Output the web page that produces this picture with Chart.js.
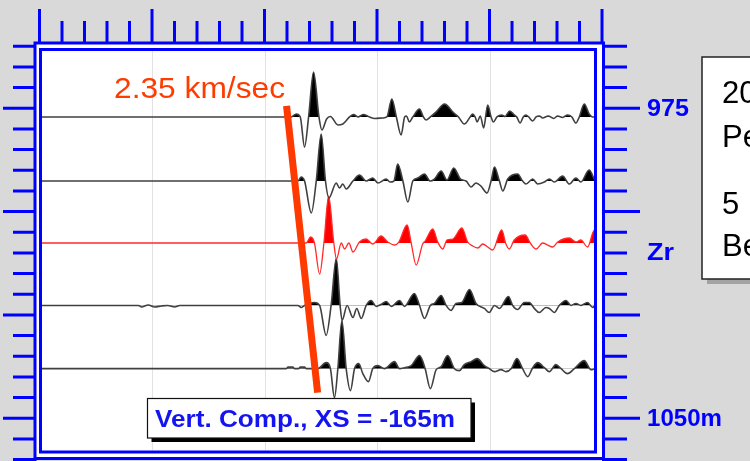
<!DOCTYPE html>
<html>
<head>
<meta charset="utf-8">
<script src="https://cdn.jsdelivr.net/npm/chart.js@4.4.1/dist/chart.umd.min.js"></script>
<style>
  html, body { margin: 0; padding: 0; background: #d9d9d9; }
  canvas { display: block; }
</style>
</head>
<body>
<canvas id="vsp" width="750" height="461"></canvas>
<script>
// Receiver depths of the five traces (m); the middle one is the reference receiver Zr
const traceDepths = [977.1, 992.6, 1007.6, 1022.7, 1038.0];

// Trace samples: picks of time (ms) and relative amplitude
const trace1Time = [0, 111.9, 114.1, 115.9, 117.8, 119.6, 121.8, 124.2, 125.5, 127.6, 129.3, 132.6, 134.8, 137.8, 139.6, 141.5, 144.1, 146.7, 148.9, 152.6, 154.4, 156.6, 158.6, 160.7, 162.3, 163.1, 164.4, 165.9, 168.9, 170.6, 171.8, 173.7, 176.3, 180.0, 184.1, 186.2, 188.8, 191.4, 192.5, 193.6, 194.5, 195.9, 197.4, 199.2, 200.7, 201.7, 203.3, 205.4, 206.9, 209.0, 211.0, 212.1, 213.6, 215.0, 216.2, 217.4, 219.2, 220.7, 222.1, 223.6, 226.1, 228.5, 230.3, 232.5, 234.7, 236.6, 238.4, 239.9, 242.1, 244.3, 245.8, 250];
const trace1Amp  = [0, 0, 3, 0, -30, 0, 45, 0, -13, -2, 0.5, -8, -7, 0, 2.5, 0, 2.5, 0, -1.5, -1, 0, 18, 0, -18, 0, 1, -5, 0, 8, 0, -3, 0, 5, 13, 4, 0, -7, 0, 3, 0, -5, 1, -11, 12, 0, -5, 0, 2, 0.5, 6, 2, 0, -6, 0, 2, 0, -4, 0, 1, -1, 1, -1.5, 1, -0.5, 2, 0, -6, 0, 13, 3, 0, 0];

const trace2Time = [0, 114.8, 116.3, 117.8, 120.8, 123.0, 125.2, 127.1, 128.6, 131.9, 133.3, 134.8, 136.3, 139.3, 142.2, 145.2, 148.1, 150.4, 154.1, 155.8, 157.5, 159.2, 161.5, 163.7, 165.9, 168.1, 171.1, 173.7, 175.5, 178.5, 181.1, 184.1, 187.1, 189.6, 191.8, 194.0, 196.2, 198.9, 200.7, 202.2, 204.4, 205.9, 208.1, 212.5, 214.7, 216.2, 219.2, 221.4, 224.4, 226.6, 228.8, 232.5, 235.5, 238.4, 240.6, 244.3, 247.3, 250];
const trace2Amp  = [0, 0, 4, 0, -32, 0, 47, 0, -17, -2, -7, -3, -8, 0, 6, 0, 3, -2, 2, -1, 0, 17, 0, -21, 0, 3, 7, 0, 2, 10, 1, 13, 2, 0, -6, -2, -5, -12, 0, 14, 0, -10, 2, 7, 0, -3, 2, -3, -1, 2, -1, 5, -3, 3, -1, 11, 0, 0];

const trace3Time = [0, 116.3, 118.5, 120.5, 122.2, 124.5, 126.4, 128.5, 130.8, 132.0, 134.1, 135.6, 137.5, 139.3, 142.2, 145.2, 148.1, 151.8, 154.8, 157.8, 159.7, 163.4, 165.2, 167.4, 170.3, 171.4, 174.8, 177.0, 179.2, 181.1, 183.7, 187.7, 190.3, 192.5, 194.8, 197.0, 199.2, 201.4, 205.4, 207.3, 208.8, 211.0, 215.8, 218.4, 220.7, 223.6, 225.8, 228.1, 230.3, 235.5, 238.4, 240.6, 243.6, 246.6, 247.3, 249.5];
const trace3Amp  = [0, 0, 0, 6, 0, -31, 0, 47, 0, -16, 0, -6, 0, -9, 1, 4, -1, 7, 1, -2, 1, 18, 0, -22, -1, 2, 14, 1, -6, 3, 4, 15, 1, -3, -5, -1, -4, -7, 13, -1, -6, 3, 8, -1, -6, 0, -2, -4, 1, 5, 1, 3, -4, 13, 12, 0];

const trace4Time = [0, 44.0, 45.3, 48.3, 51.2, 54.2, 57.0, 60.1, 62.3, 114.8, 116.3, 117.8, 122.2, 124.5, 127.4, 129.6, 131.9, 133.6, 134.5, 136.7, 139.3, 141.0, 143.0, 145.2, 147.4, 149.6, 151.8, 154.1, 156.3, 160.0, 162.2, 166.6, 168.9, 171.1, 173.7, 175.5, 178.5, 180.7, 182.9, 185.1, 187.7, 191.1, 194.0, 197.7, 199.9, 202.2, 204.4, 208.4, 210.3, 212.5, 215.5, 217.7, 219.9, 222.1, 225.1, 226.6, 228.8, 231.0, 234.0, 236.2, 238.4, 240.6, 243.6, 245.8, 247.3, 250];
const trace4Amp  = [0, 0, -1.5, 0.5, -1.5, -0.5, 0, -1.5, 0, 0, -2, 0, 3, 0, -30, 0, 47, 0, -15, 0, -12, -3, -13, 0, 5, -1, 1, 4, -1, 5, -1, 12, 0, -13, 0, 2, 10, 0, -5, 2, 3, 16, 2, -3, -7, 0, -3, 9, 0, -4, 3, 3, -3, -7, -2, -3, -7, 0, 5, 0, 2, 0, 3, -2, 0, 0];

const trace5Time = [0, 109.7, 110.4, 112.6, 113.4, 115.1, 115.9, 117.8, 118.5, 123.7, 127.4, 129.3, 131.1, 132.6, 134.4, 136.3, 138.2, 140.0, 141.9, 143.7, 146.2, 148.1, 150.4, 153.3, 157.8, 160.0, 162.2, 165.2, 168.9, 171.4, 173.7, 176.3, 178.5, 181.4, 184.4, 186.6, 188.8, 191.8, 194.5, 197.7, 199.9, 202.2, 205.1, 207.3, 209.6, 212.2, 214.7, 217.0, 219.2, 221.4, 224.4, 226.6, 229.5, 231.8, 234.7, 237.7, 242.1, 245.1, 247.3, 250];
const trace5Amp  = [0, 0, 1.5, 1.5, 0, 0, 1.5, 1.5, 0, 0, 6, 0, -29, 0, 48, 0, -22, 0, 5, -5, -13, 0, 3, 0, 7, 0, 1, 3, 13, 0, -20, -1, 2, 13, 0, -2, 4, 7, 10, 3, 0, -3, -1, -3, 0, 10, 0, -8, 1, 6, 1, -3, 4, 0, -5, 0, 8, -1, 0, 0];

// First-arrival moveout line (time ms, depth m) and its velocity label
const moveoutTime  = [109.8, 123.6];
const moveoutDepth = [974.4, 1043.8];
const moveoutLabel = '2.35 km/sec';

// Axis ticks and labels
const timeTicks   = [0, 10, 20, 30, 40, 50, 60, 70, 80, 90, 100, 110, 120, 130, 140, 150, 160, 170, 180, 190, 200, 210, 220, 230, 240, 250];
const timeGrid    = [50, 100, 150, 200];
const depthTicks  = [960, 965, 970, 975, 980, 985, 990, 995, 1000, 1005, 1010, 1015, 1020, 1025, 1030, 1035, 1040, 1045, 1050, 1055, 1060];
const depthLabels = [{ depth: 975, text: '975' }, { depth: 1010, text: 'Zr' }, { depth: 1050, text: '1050m' }];
const panelTitle  = 'Vert. Comp., XS = -165m';
const noteLines   = ['200 Hz', 'Peak', '5', 'Bed'];

const traceTimes = [trace1Time, trace2Time, trace3Time, trace4Time, trace5Time];
const traceAmps  = [trace1Amp, trace2Amp, trace3Amp, trace4Amp, trace5Amp];
const refTrace = 2;           // index of the receiver drawn in red
const ampToDepth = 0.242;     // display gain: metres of deflection per amplitude unit

const BLUE = '#0000ff';
const FONT = '"Liberation Sans", Arial, Helvetica, sans-serif';

function traceDataset(k) {
  const base = traceDepths[k];
  const t = traceTimes[k], a = traceAmps[k];
  const n = Math.min(t.length, a.length);
  const pts = [];
  for (let i = 0; i < n; i++) pts.push({ x: t[i], y: base - a[i] * ampToDepth });
  const red = k === refTrace;
  return {
    data: pts,
    borderColor: red ? '#ff2a2a' : '#404040',
    borderWidth: red ? 1.3 : 1.6,
    pointRadius: 0,
    cubicInterpolationMode: 'monotone',
    fill: { target: { value: base }, above: red ? '#ff0000' : '#000000', below: 'rgba(0,0,0,0)' },
    order: 1
  };
}

// Draw text stretched horizontally to a given width
function fitText(ctx, text, x, y, width) {
  const w = ctx.measureText(text).width;
  ctx.save();
  ctx.translate(x, y);
  ctx.scale(width / w, 1);
  ctx.fillText(text, 0, 0);
  ctx.restore();
}

const framePlugin = {
  id: 'frame',
  beforeDraw(chart) {
    const ctx = chart.ctx;
    ctx.save();
    ctx.fillStyle = '#d9d9d9';
    ctx.fillRect(0, 0, chart.width, chart.height);
    ctx.fillStyle = '#ffffff';
    ctx.fillRect(35, 43, 568.5, 415.5);
    ctx.restore();
  },
  beforeDatasetsDraw(chart) {
    const { ctx, chartArea } = chart;
    const xs = chart.scales.x;
    ctx.save();
    ctx.strokeStyle = '#e2e2e2';
    ctx.lineWidth = 1;
    timeGrid.forEach(t => {
      const x = Math.round(xs.getPixelForValue(t)) + 0.5;
      ctx.beginPath();
      ctx.moveTo(x, chartArea.top);
      ctx.lineTo(x, chartArea.bottom);
      ctx.stroke();
    });
    ctx.restore();
  },
  afterDraw(chart) {
    const ctx = chart.ctx;
    const xs = chart.scales.x, ys = chart.scales.y;
    ctx.save();
    ctx.strokeStyle = BLUE;
    ctx.lineWidth = 3;
    ctx.lineCap = 'butt';

    // outer axes
    ctx.beginPath();
    ctx.moveTo(33.5, 43); ctx.lineTo(605, 43);
    ctx.moveTo(35, 41.5); ctx.lineTo(35, 461);
    ctx.moveTo(603.5, 41.5); ctx.lineTo(603.5, 461);
    ctx.moveTo(33.5, 458.5); ctx.lineTo(605, 458.5);
    ctx.stroke();
    // inner frame
    ctx.strokeRect(40.5, 49.5, 555, 402.5);

    // time ticks along the top
    ctx.beginPath();
    timeTicks.forEach(t => {
      const x = xs.getPixelForValue(t);
      const major = t % 50 === 0;
      ctx.moveTo(x, 43);
      ctx.lineTo(x, major ? 9 : 21);
    });
    // depth ticks on both sides
    depthTicks.forEach(d => {
      const y = ys.getPixelForValue(d);
      const major = d % 25 === 0;
      ctx.moveTo(35, y); ctx.lineTo(major ? 3 : 13, y);
      ctx.moveTo(603.5, y); ctx.lineTo(major ? 640 : 627, y);
    });
    ctx.stroke();

    // depth labels on the right
    ctx.fillStyle = BLUE;
    ctx.font = 'bold 23px ' + FONT;
    ctx.textBaseline = 'middle';
    const labelWidths = { '975': 42, 'Zr': 27, '1050m': 75 };
    depthLabels.forEach(l => {
      const y = ys.getPixelForValue(l.depth);
      fitText(ctx, l.text, 647, y + 1, labelWidths[l.text]);
    });

    // velocity label
    ctx.fillStyle = '#ff3c00';
    ctx.font = '29px ' + FONT;
    ctx.textBaseline = 'alphabetic';
    fitText(ctx, moveoutLabel, 114, 97.5, 171);

    // panel title box
    ctx.fillStyle = '#000000';
    ctx.fillRect(151.5, 402.5, 323.5, 39.5);
    ctx.fillStyle = '#ffffff';
    ctx.fillRect(147.5, 398.5, 323.5, 39.5);
    ctx.lineWidth = 1.2;
    ctx.strokeStyle = '#111111';
    ctx.strokeRect(147.5, 398.5, 323.5, 39.5);
    ctx.fillStyle = '#1414f0';
    ctx.font = 'bold 23px ' + FONT;
    fitText(ctx, panelTitle, 155, 426.5, 300);

    // note box on the right
    ctx.fillStyle = '#a3a3a3';
    ctx.fillRect(707, 62, 60, 222);
    ctx.fillStyle = '#ffffff';
    ctx.fillRect(702, 57, 60, 222);
    ctx.strokeStyle = '#222222';
    ctx.lineWidth = 1.5;
    ctx.strokeRect(702, 57, 60, 222);
    ctx.fillStyle = '#000000';
    ctx.font = '31px ' + FONT;
    const noteBaselines = [103, 147, 214, 256];
    noteLines.forEach((s, i) => ctx.fillText(s, 722, noteBaselines[i]));
    ctx.restore();
  }
};

const datasets = [{
  data: moveoutTime.map((t, i) => ({ x: t, y: moveoutDepth[i] })),
  borderColor: '#ff3a00',
  borderWidth: 7,
  pointRadius: 0,
  fill: false,
  order: 0
}];
for (let k = 0; k < traceDepths.length; k++) datasets.push(traceDataset(k));

new Chart(document.getElementById('vsp'), {
  type: 'line',
  data: { datasets },
  options: {
    responsive: false,
    animation: false,
    events: [],
    layout: { padding: { left: 42, top: 51, right: 156, bottom: 10.5 } },
    scales: {
      x: { type: 'linear', min: 1.11, max: 246.44, display: false },
      y: { type: 'linear', min: 961.14, max: 1057.8, reverse: true, display: false }
    },
    plugins: { legend: { display: false }, tooltip: { enabled: false } }
  },
  plugins: [framePlugin]
});
</script>
</body>
</html>
